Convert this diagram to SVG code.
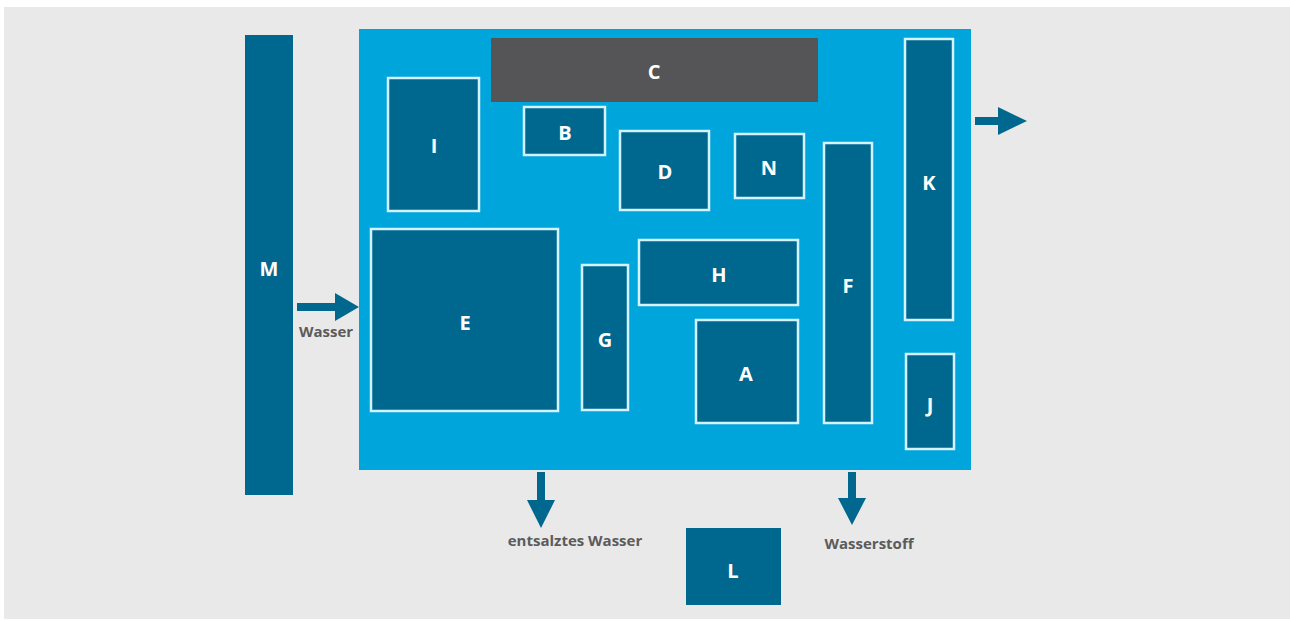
<svg xmlns="http://www.w3.org/2000/svg" width="1290" height="621" viewBox="0 0 1290 621">
<style>
.n{fill:#00688f;stroke:#d2f3ff;stroke-width:2.5}
.t{fill:#ffffff;font-family:"Open Sans","Liberation Sans",sans-serif;font-weight:bold;font-size:20px;text-anchor:middle;dominant-baseline:central}
.l{fill:#5b5b5b;font-family:"Open Sans","Liberation Sans",sans-serif;font-weight:bold;font-size:15px;text-anchor:middle}
.a{fill:#00688f}
</style>
<rect x="0" y="0" width="1290" height="621" fill="#ffffff"/>
<rect x="4" y="7" width="1286" height="612" fill="#e9e9e9"/>
<g id="M"><rect x="245" y="35" width="48" height="460" fill="#00688f"/><text class="t" x="269" y="268">M</text></g>
<g id="container"><rect x="359" y="29" width="612" height="441" fill="#00a6db"/></g>
<g id="C"><rect x="491" y="38" width="327" height="64" fill="#555557"/><text class="t" x="654" y="71">C</text></g>
<g id="I"><rect class="n" x="388" y="78" width="91" height="133"/><text class="t" x="434" y="145">I</text></g>
<g id="B"><rect class="n" x="524" y="107" width="81" height="48"/><text class="t" x="565" y="132">B</text></g>
<g id="D"><rect class="n" x="620" y="131" width="89" height="79"/><text class="t" x="665" y="171">D</text></g>
<g id="N"><rect class="n" x="735" y="134" width="69" height="64"/><text class="t" x="769" y="167">N</text></g>
<g id="K"><rect class="n" x="905" y="39" width="48" height="281"/><text class="t" x="929" y="182">K</text></g>
<g id="F"><rect class="n" x="824" y="143" width="48" height="280"/><text class="t" x="848" y="285">F</text></g>
<g id="H"><rect class="n" x="639" y="240" width="159" height="65"/><text class="t" x="719" y="274">H</text></g>
<g id="E"><rect class="n" x="371" y="229" width="187" height="182"/><text class="t" x="465" y="322">E</text></g>
<g id="G"><rect class="n" x="582" y="265" width="46" height="145"/><text class="t" x="605" y="339">G</text></g>
<g id="A"><rect class="n" x="696" y="320" width="102" height="103"/><text class="t" x="746" y="373">A</text></g>
<g id="J"><rect class="n" x="906" y="354" width="48" height="95"/><text class="t" x="930" y="404">J</text></g>
<g id="L"><rect x="686" y="528" width="95" height="77" fill="#00688f"/><text class="t" x="733" y="570">L</text></g>
<g id="connectors">
<polygon class="a" points="297,303 335,303 335,293 359,307 335,321 335,311 297,311"/>
<polygon class="a" points="975,117 998,117 998,107 1027,121 998,135 998,125 975,125"/>
<polygon class="a" points="537,472 545,472 545,500 555,500 541,528 527,500 537,500"/>
<polygon class="a" points="848,472 856,472 856,498 866,498 852,525 838,498 848,498"/>
</g>
<text class="l" x="326" y="337">Wasser</text>
<text class="l" x="575" y="546">entsalztes Wasser</text>
<text class="l" x="869" y="549">Wasserstoff</text>
</svg>
